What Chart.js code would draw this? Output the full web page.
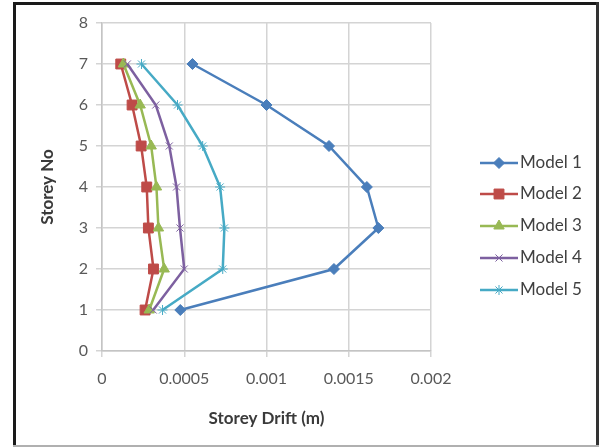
<!DOCTYPE html>
<html>
<head>
<meta charset="utf-8">
<script src="https://cdn.jsdelivr.net/npm/chart.js@4.4.1/dist/chart.umd.min.js"></script>
<style>
  html, body { margin: 0; padding: 0; background: #ffffff; }
  #wrap { width: 601px; height: 447px; position: relative; }
</style>
</head>
<body>
<div id="wrap"><canvas id="drift" width="601" height="447"></canvas></div>
<script>
// Storey numbers (y) and storey drift in metres (x) for each model
const storeys = [1, 2, 3, 4, 5, 6, 7];
const model1 = [0.000476, 0.00141, 0.00168, 0.00161, 0.00138, 0.00100, 0.00055];
const model2 = [0.000262, 0.000313, 0.000282, 0.000272, 0.000238, 0.000183, 0.000114];
const model3 = [0.000287, 0.000378, 0.000343, 0.000331, 0.000299, 0.000232, 0.00013];
const model4 = [0.000311, 0.0005, 0.000474, 0.000453, 0.000409, 0.000327, 0.000154];
const model5 = [0.000368, 0.000734, 0.000744, 0.000718, 0.000612, 0.000459, 0.00024];
const seriesNames = ['Model 1', 'Model 2', 'Model 3', 'Model 4', 'Model 5'];
const yTicks = [0, 1, 2, 3, 4, 5, 6, 7, 8];
const xTicks = [0, 0.0005, 0.001, 0.0015, 0.002];

const FONT = 'Lato, "Open Sans", sans-serif';
const styles = [
  { color: '#4A7EBB', point: 'rectRot', radius: 5.5, pw: 1 },
  { color: '#BE4B48', point: 'rect', radius: 7, pw: 1 },
  { color: '#98B954', point: 'triangle', radius: 6, pw: 1 },
  { color: '#7D60A0', point: 'crossRot', radius: 5, pw: 1 },
  { color: '#46AAC5', point: 'star', radius: 5, pw: 1 }
];
const values = [model1, model2, model3, model4, model5];

const datasets = values.map((vals, i) => ({
  label: seriesNames[i],
  data: vals.map((v, k) => ({ x: v, y: storeys[k] })),
  showLine: true,
  borderColor: styles[i].color,
  backgroundColor: styles[i].color,
  borderWidth: 2.5,
  pointStyle: styles[i].point,
  pointRadius: styles[i].radius,
  pointBorderWidth: styles[i].pw,
  pointBorderColor: styles[i].color,
  pointBackgroundColor: styles[i].color,
  tension: 0,
  order: 5 - i
}));

// White page with the dark frame around the figure
const framePlugin = {
  id: 'frame',
  beforeDraw(chart) {
    const c = chart.ctx;
    c.save();
    c.fillStyle = '#ffffff';
    c.fillRect(0, 0, chart.width, chart.height);
    c.restore();
  },
  afterDraw(chart) {
    const c = chart.ctx;
    c.save();
    c.fillStyle = '#1a1a1a';
    c.fillRect(13, 2, 3, 445);   // left edge
    c.fillRect(13, 2, 586, 3);   // top edge
    c.fillStyle = '#333333';
    c.fillRect(596, 2, 3, 445);  // right edge
    c.fillStyle = '#b0b0b0';
    c.fillRect(13, 445, 586, 2); // bottom edge
    c.restore();
  }
};

// Key on the right: a line sample with the series marker and its name
const keyPlugin = {
  id: 'seriesKey',
  afterDatasetsDraw(chart) {
    const c = chart.ctx;
    const x0 = 480, x1 = 518, rows = [163, 194, 226, 258, 290];
    chart.data.datasets.forEach((ds, i) => {
      const y = rows[i];
      c.save();
      c.strokeStyle = ds.borderColor;
      c.lineWidth = ds.borderWidth;
      c.beginPath();
      c.moveTo(x0, y);
      c.lineTo(x1, y);
      c.stroke();
      c.fillStyle = ds.pointBackgroundColor;
      c.strokeStyle = ds.pointBorderColor;
      c.lineWidth = ds.pointBorderWidth;
      Chart.helpers.drawPoint(c, {
        pointStyle: ds.pointStyle,
        radius: ds.pointRadius,
        rotation: 0,
        borderWidth: ds.pointBorderWidth
      }, (x0 + x1) / 2, y);
      c.fillStyle = '#404040';
      c.font = '17px ' + FONT;
      c.textBaseline = 'middle';
      c.textAlign = 'left';
      c.fillText(ds.label, x1 + 2, y);
      c.restore();
    });
  }
};

const gridColor = '#d4d4d4';

new Chart(document.getElementById('drift'), {
  type: 'scatter',
  data: { datasets },
  plugins: [framePlugin, keyPlugin],
  options: {
    responsive: false,
    animation: false,
    events: [],
    layout: { padding: { left: 16, top: 23, right: 170, bottom: 2 } },
    plugins: {
      legend: { display: false },
      tooltip: { enabled: false },
      title: { display: false }
    },
    scales: {
      x: {
        type: 'linear',
        min: xTicks[0],
        max: xTicks[xTicks.length - 1],
        afterBuildTicks(scale) { scale.ticks = xTicks.map(v => ({ value: v })); },
        afterFit(scale) { scale.height = 94; },
        ticks: {
          callback: v => String(+Number(v).toFixed(4)),
          color: '#595959',
          font: { family: FONT, size: 16 },
          padding: 12,
          maxRotation: 0,
          autoSkip: false
        },
        grid: { color: gridColor, lineWidth: 1.5, tickLength: 6, drawTicks: true },
        border: { display: true, color: '#c4c4c4', width: 1.5 },
        title: {
          display: true,
          text: 'Storey Drift (m)',
          color: '#3a3a3a',
          font: { family: FONT, size: 17, weight: 'bold' },
          padding: { top: 0, bottom: 16 }
        }
      },
      y: {
        type: 'linear',
        min: yTicks[0],
        max: yTicks[yTicks.length - 1],
        afterBuildTicks(scale) { scale.ticks = yTicks.map(v => ({ value: v })); },
        afterFit(scale) { scale.width = 86; },
        ticks: {
          color: '#595959',
          font: { family: FONT, size: 16 },
          padding: 8,
          autoSkip: false
        },
        grid: { color: gridColor, lineWidth: 1.5, tickLength: 6, drawTicks: true },
        border: { display: true, color: '#c4c4c4', width: 1.5 },
        title: {
          display: true,
          text: 'Storey No',
          color: '#3a3a3a',
          font: { family: FONT, size: 17, weight: 'bold' },
          padding: { top: 21, bottom: 0 }
        }
      }
    }
  }
});
</script>
</body>
</html>
